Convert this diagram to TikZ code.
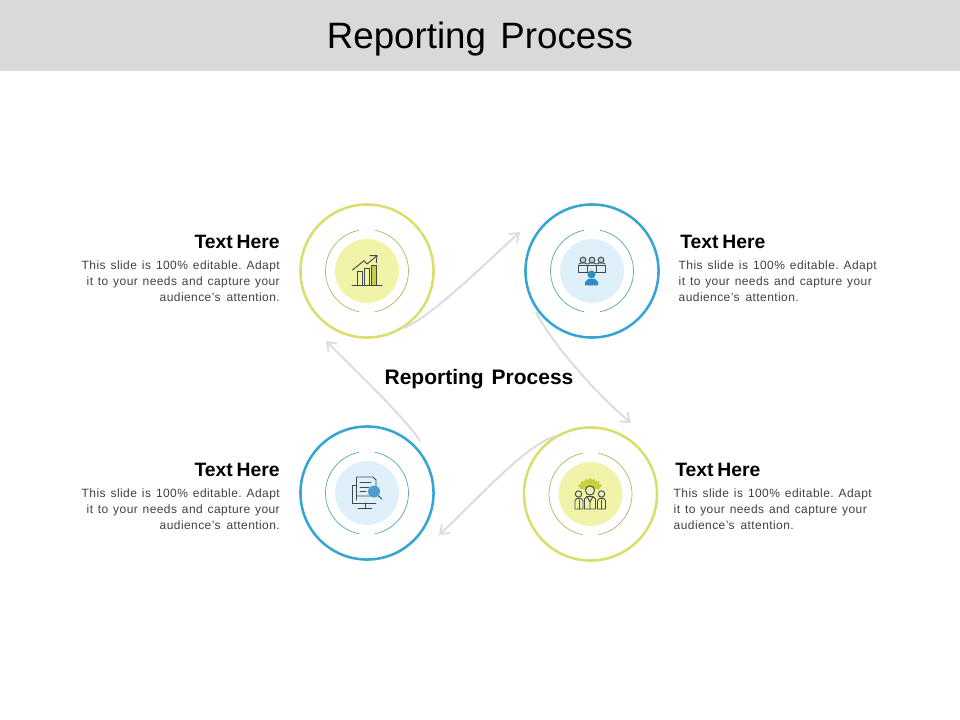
\documentclass[tikz,border=0pt]{standalone}
\usepackage{fontspec}
\setmainfont{Liberation Sans}
\usetikzlibrary{arrows.meta}
\definecolor{ylw}{HTML}{D9DE6E}
\definecolor{ylwin}{HTML}{F0F3A8}
\definecolor{ylwarc}{HTML}{B5B56A}
\definecolor{blu}{HTML}{36A5D3}
\definecolor{bluin}{HTML}{DFF0FA}
\definecolor{bluarc}{HTML}{5FA8BC}
\definecolor{band}{HTML}{D9D9D9}
\definecolor{flow}{HTML}{DCDCDC}
\definecolor{ink}{HTML}{404040}
\definecolor{icn}{HTML}{3F4A4A}
\definecolor{ifillY}{HTML}{C8CE3C}
\definecolor{ifillB}{HTML}{2F8DC4}
\newcommand{\bodylines}[3]{%
  \makebox[#1pt][s]{This slide is 100\% editable. Adapt}\\%
  \makebox[#2pt][s]{it to your needs and capture your}\\%
  \makebox[#3pt][s]{audience's attention.}}
\tikzset{
  ring/.style={circle,draw,line width=1.9pt,minimum size=99.8pt,inner sep=0pt,fill=none},
  disc/.style={circle,minimum size=48pt,inner sep=0pt},
  thinarc/.style={line width=0.55pt},
  flowline/.style={draw=flow,line width=1.5pt,-{Straight Barb[length=6pt,width=9pt,line width=1.4pt]}},
  headtext/.style={font=\bfseries\fontsize{14.5}{16}\selectfont,inner sep=0pt,text=black},
  bodytext/.style={font=\fontsize{9}{12}\selectfont\addfontfeature{LetterSpace=3.5}\frenchspacing,text=ink,inner sep=0pt,align=right},
  icl/.style={draw=icn,line width=0.7pt,line join=round,line cap=round},
}
\begin{document}
\begin{tikzpicture}[x=0.75pt,y=-0.75pt]
\useasboundingbox (0,0) rectangle (960,720);
\fill[band] (0,0) rectangle (960,71.5);
\node[inner sep=0pt,font=\fontsize{27.5}{30}\selectfont,text=black] (title) at (480,39) {Reporting\hspace{0.12em} Process};

% rings
\node[ring,draw=ylw] (c1) at (367,271) {};
\node[ring,draw=blu] (c2) at (592,271) {};
\node[ring,draw=blu] (c3) at (367,493) {};
\node[ring,draw=ylw] (c4) at (590.5,494) {};
\node[disc,fill=ylwin] (d1) at (367,271) {};
\node[disc,fill=bluin] (d2) at (592,271) {};
\node[disc,fill=bluin] (d3) at (367,493) {};
\node[disc,fill=ylwin] (d4) at (590.5,494) {};

% broken middle rings
\foreach \c/\col in {c1/ylwarc,c2/bluarc,c3/bluarc,c4/ylwarc}{
  \draw[thinarc,draw=\col] ([shift={(101:41.5)}]\c.center) arc[start angle=101,end angle=259,radius=41.5];
  \draw[thinarc,draw=\col] ([shift={(-79:41.5)}]\c.center) arc[start angle=-79,end angle=79,radius=41.5];
}

% connectors
\coordinate (a1) at (520,232);
\coordinate (a2) at (631,423);
\coordinate (a3) at (439,535);
\coordinate (a4) at (326,341);
\coordinate (s1) at (404,328);
\coordinate (s2) at (536,312);
\coordinate (s3) at (556,436);
\coordinate (s4) at (420,441);
\draw[flowline] (s1) .. controls (432,316) and (478,270) .. (a1);
\draw[flowline] (s2) .. controls (550,340) and (590,388) .. (a2);
\draw[flowline] (s3) .. controls (525,445) and (480,497) .. (a3);
\draw[flowline] (s4) .. controls (405,418) and (365,380) .. (a4);

% centre label
\node[inner sep=0pt,font=\bfseries\fontsize{15.75}{18}\selectfont,text=black] (mid) at (479,379) {Reporting\hspace{0.1em} Process};

% text blocks
\node[headtext,anchor=east] (h1) at (280,242) {Text\hspace{-0.08em} Here};
\node[headtext,anchor=west] (h2) at (680,242) {Text\hspace{-0.08em} Here};
\node[headtext,anchor=east] (h3) at (280,470) {Text\hspace{-0.08em} Here};
\node[headtext,anchor=west] (h4) at (675,470) {Text\hspace{-0.08em} Here};

\node[bodytext,anchor=north east] (b1) at (280,261) {\bodylines{148.5}{144.8}{90}};
\node[bodytext,anchor=north east,align=left] (b2) at (877,261) {\bodylines{148.5}{144.8}{90}};
\node[bodytext,anchor=north east] (b3) at (280,489) {\bodylines{148.5}{144.8}{90}};
\node[bodytext,anchor=north east,align=left] (b4) at (872,489) {\bodylines{148.5}{144.8}{90}};

% icon 1: chart
\draw[icl] (352,285.5) -- (382,285.5);
\draw[icl,fill=ylwin] (357.7,285.5) -- (357.7,271) -- (362.3,271) -- (362.3,285.5);
\draw[icl,fill=ylwin] (364.5,285.5) -- (364.5,268) -- (369.3,268) -- (369.3,285.5);
\draw[icl,fill=ifillY] (371.7,285.5) -- (371.7,265) -- (376.7,265) -- (376.7,285.5);
\draw[icl] (352.5,270) -- (364,260.7) -- (367,264) -- (377,255.7);
\draw[icl] (370,255.7) -- (377,255.7) -- (376.3,262.7);

% icon 2: audience and speaker
\foreach \x in {583,592,601}{
  \draw[icl,fill=bluin!70!gray] (\x,260) circle[radius=2.9];
  \draw[icl] (\x-4,264) -- (\x-2,263) -- (\x+2,263) -- (\x+4,264);
}
\draw[icl,fill=bluin] (578.5,265) rectangle (587.5,272);
\draw[icl,fill=bluin] (587.5,265) rectangle (596.5,272);
\draw[icl,fill=bluin] (596.5,265) rectangle (605.5,272);
\fill[ifillB] (591.5,274.5) circle[radius=4];
\fill[ifillB] (585,285.5) -- (585,282) -- (588,279) -- (595,279) -- (598,282) -- (598,285.5) -- cycle;

% icon 3: monitor, document, lens
\draw[icl] (357,485) -- (352,485) -- (352,503) -- (376,503);
\draw[icl] (365,503) -- (365,508) (358,508.5) -- (372,508.5);
\draw[icl,fill=bluin] (356.5,500) -- (356.5,477) -- (373,477) -- (376,480) -- (376,490) -- (372,496) -- (356.5,496);
\draw[icl] (360,482.5) -- (371,482.5) (360,487) -- (369,487) (360,491.5) -- (366,491.5);
\draw[icl] (378,495.5) -- (382,499);
\fill[ifillB!85!white] (374,491.5) circle[radius=6];

% icon 4: gear and three people
\fill[ifillY] (578,485) -- (581,484) -- (581,481) -- (584,481.5) -- (586,479) -- (588,480) -- (590,478) -- (592,480) -- (594,479) -- (596,481.5) -- (599,481) -- (599,484) -- (602,485) -- (599,489) -- (581,489) -- cycle;
\draw[icl,fill=ylwin] (590,490.5) circle[radius=4.6];
\draw[icl,fill=ylwin] (584.5,509) -- (584.5,499) -- (587,496.5) -- (593,496.5) -- (595.5,499) -- (595.5,509) -- cycle;
\draw[icl] (587,496.5) -- (590,502) -- (593,496.5) (590,502) -- (590,509);
\draw[icl,fill=ylwin] (578.5,494) circle[radius=3.2];
\draw[icl,fill=ylwin] (575,509) -- (575,500.5) -- (577,498.5) -- (581,498.5) -- (583,500.5) -- (583,509) -- cycle;
\draw[icl] (579,500) -- (579,509);
\draw[icl,fill=ylwin] (601.5,494) circle[radius=3.2];
\draw[icl,fill=ylwin] (597.5,509) -- (597.5,500.5) -- (599.5,498.5) -- (603.5,498.5) -- (605.5,500.5) -- (605.5,509) -- cycle;
\draw[icl] (601.5,500) -- (601.5,509);
\end{tikzpicture}
\end{document}
